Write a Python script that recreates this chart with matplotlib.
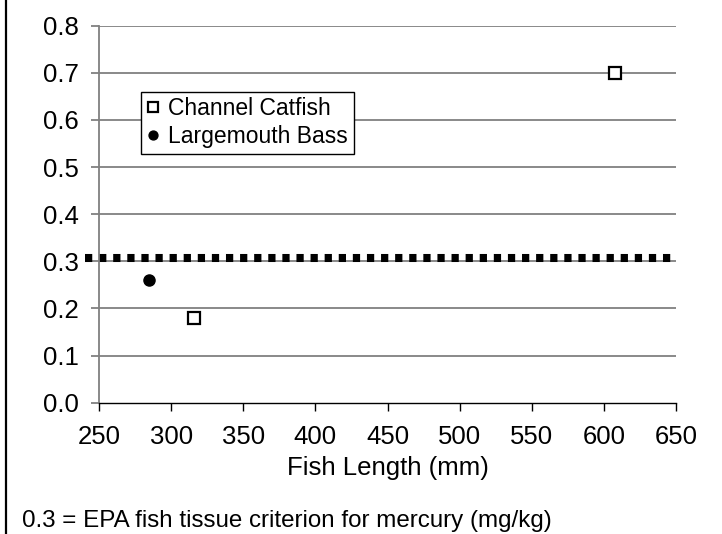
import matplotlib
matplotlib.use("Agg")
import matplotlib.pyplot as plt
from matplotlib.lines import Line2D

catfish_len = [316, 608]
catfish_hg = [0.18, 0.70]
bass_len = [285]
bass_hg = [0.26]
criterion = 0.308
x_ticks = [250, 300, 350, 400, 450, 500, 550, 600, 650]
y_ticks = [0.0, 0.1, 0.2, 0.3, 0.4, 0.5, 0.6, 0.7, 0.8]

plt.rcParams["font.family"] = ["Liberation Sans", "DejaVu Sans"]
fs = 18.5

fig = plt.figure(figsize=(7.22, 5.34), dpi=100)
ax = fig.add_axes([99 / 722, 1 - 402.7 / 534, 577 / 722, 377 / 534])

ax.set_xlim(250, 650)
ax.set_ylim(0, 0.8)
ax.set_xticks(x_ticks)
ax.set_yticks(y_ticks)
ax.set_yticklabels([f"{v:.1f}" for v in y_ticks])

for y in y_ticks[1:]:
    ax.axhline(y, color="#808080", linewidth=1.3, zorder=1)

# criterion line, drawn a little past the y axis like the original
ax.plot([240, 650], [criterion, criterion], color="black", linewidth=5.8,
        linestyle=(0, (0.9, 0.85)), dash_capstyle="butt", clip_on=False, zorder=2)

ax.plot(catfish_len, catfish_hg, linestyle="none", marker="s", markersize=8.2,
        markerfacecolor="white", markeredgecolor="black", markeredgewidth=1.6,
        label="Channel Catfish", zorder=4)
ax.plot(bass_len, bass_hg, linestyle="none", marker="o", markersize=8,
        markerfacecolor="black", markeredgecolor="black",
        label="Largemouth Bass", zorder=4)

for side in ("top", "right"):
    ax.spines[side].set_visible(False)
ax.spines["left"].set_color("#808080")
ax.spines["left"].set_linewidth(1.3)
ax.spines["bottom"].set_color("black")
ax.spines["bottom"].set_linewidth(1.0)

ax.tick_params(axis="y", direction="out", length=5.8, width=1.3, color="#808080",
               pad=8.5, labelsize=fs)
ax.tick_params(axis="x", direction="out", length=5.8, width=1.0, color="black",
               pad=10, labelsize=fs)
ax.set_xlabel("Fish Length (mm)", fontsize=fs, labelpad=5)

leg = ax.legend(loc="upper left", bbox_to_anchor=(0.072, 0.825), borderaxespad=0,
                fontsize=16.5, frameon=True, fancybox=False, edgecolor="black",
                framealpha=1, handlelength=0.6, handletextpad=0.35,
                borderpad=0.25, labelspacing=0.2, markerscale=0.8)
leg.get_frame().set_linewidth(1.0)

fig.add_artist(Line2D([6 / 722, 6 / 722], [0, 1], color="black", linewidth=1.6,
                      transform=fig.transFigure))
fig.text(22 / 722, 1 - 521 / 534, "0.3 = EPA fish tissue criterion for mercury (mg/kg)",
         fontsize=17.4, va="center", ha="left")

fig.savefig("out.png", dpi=100)
